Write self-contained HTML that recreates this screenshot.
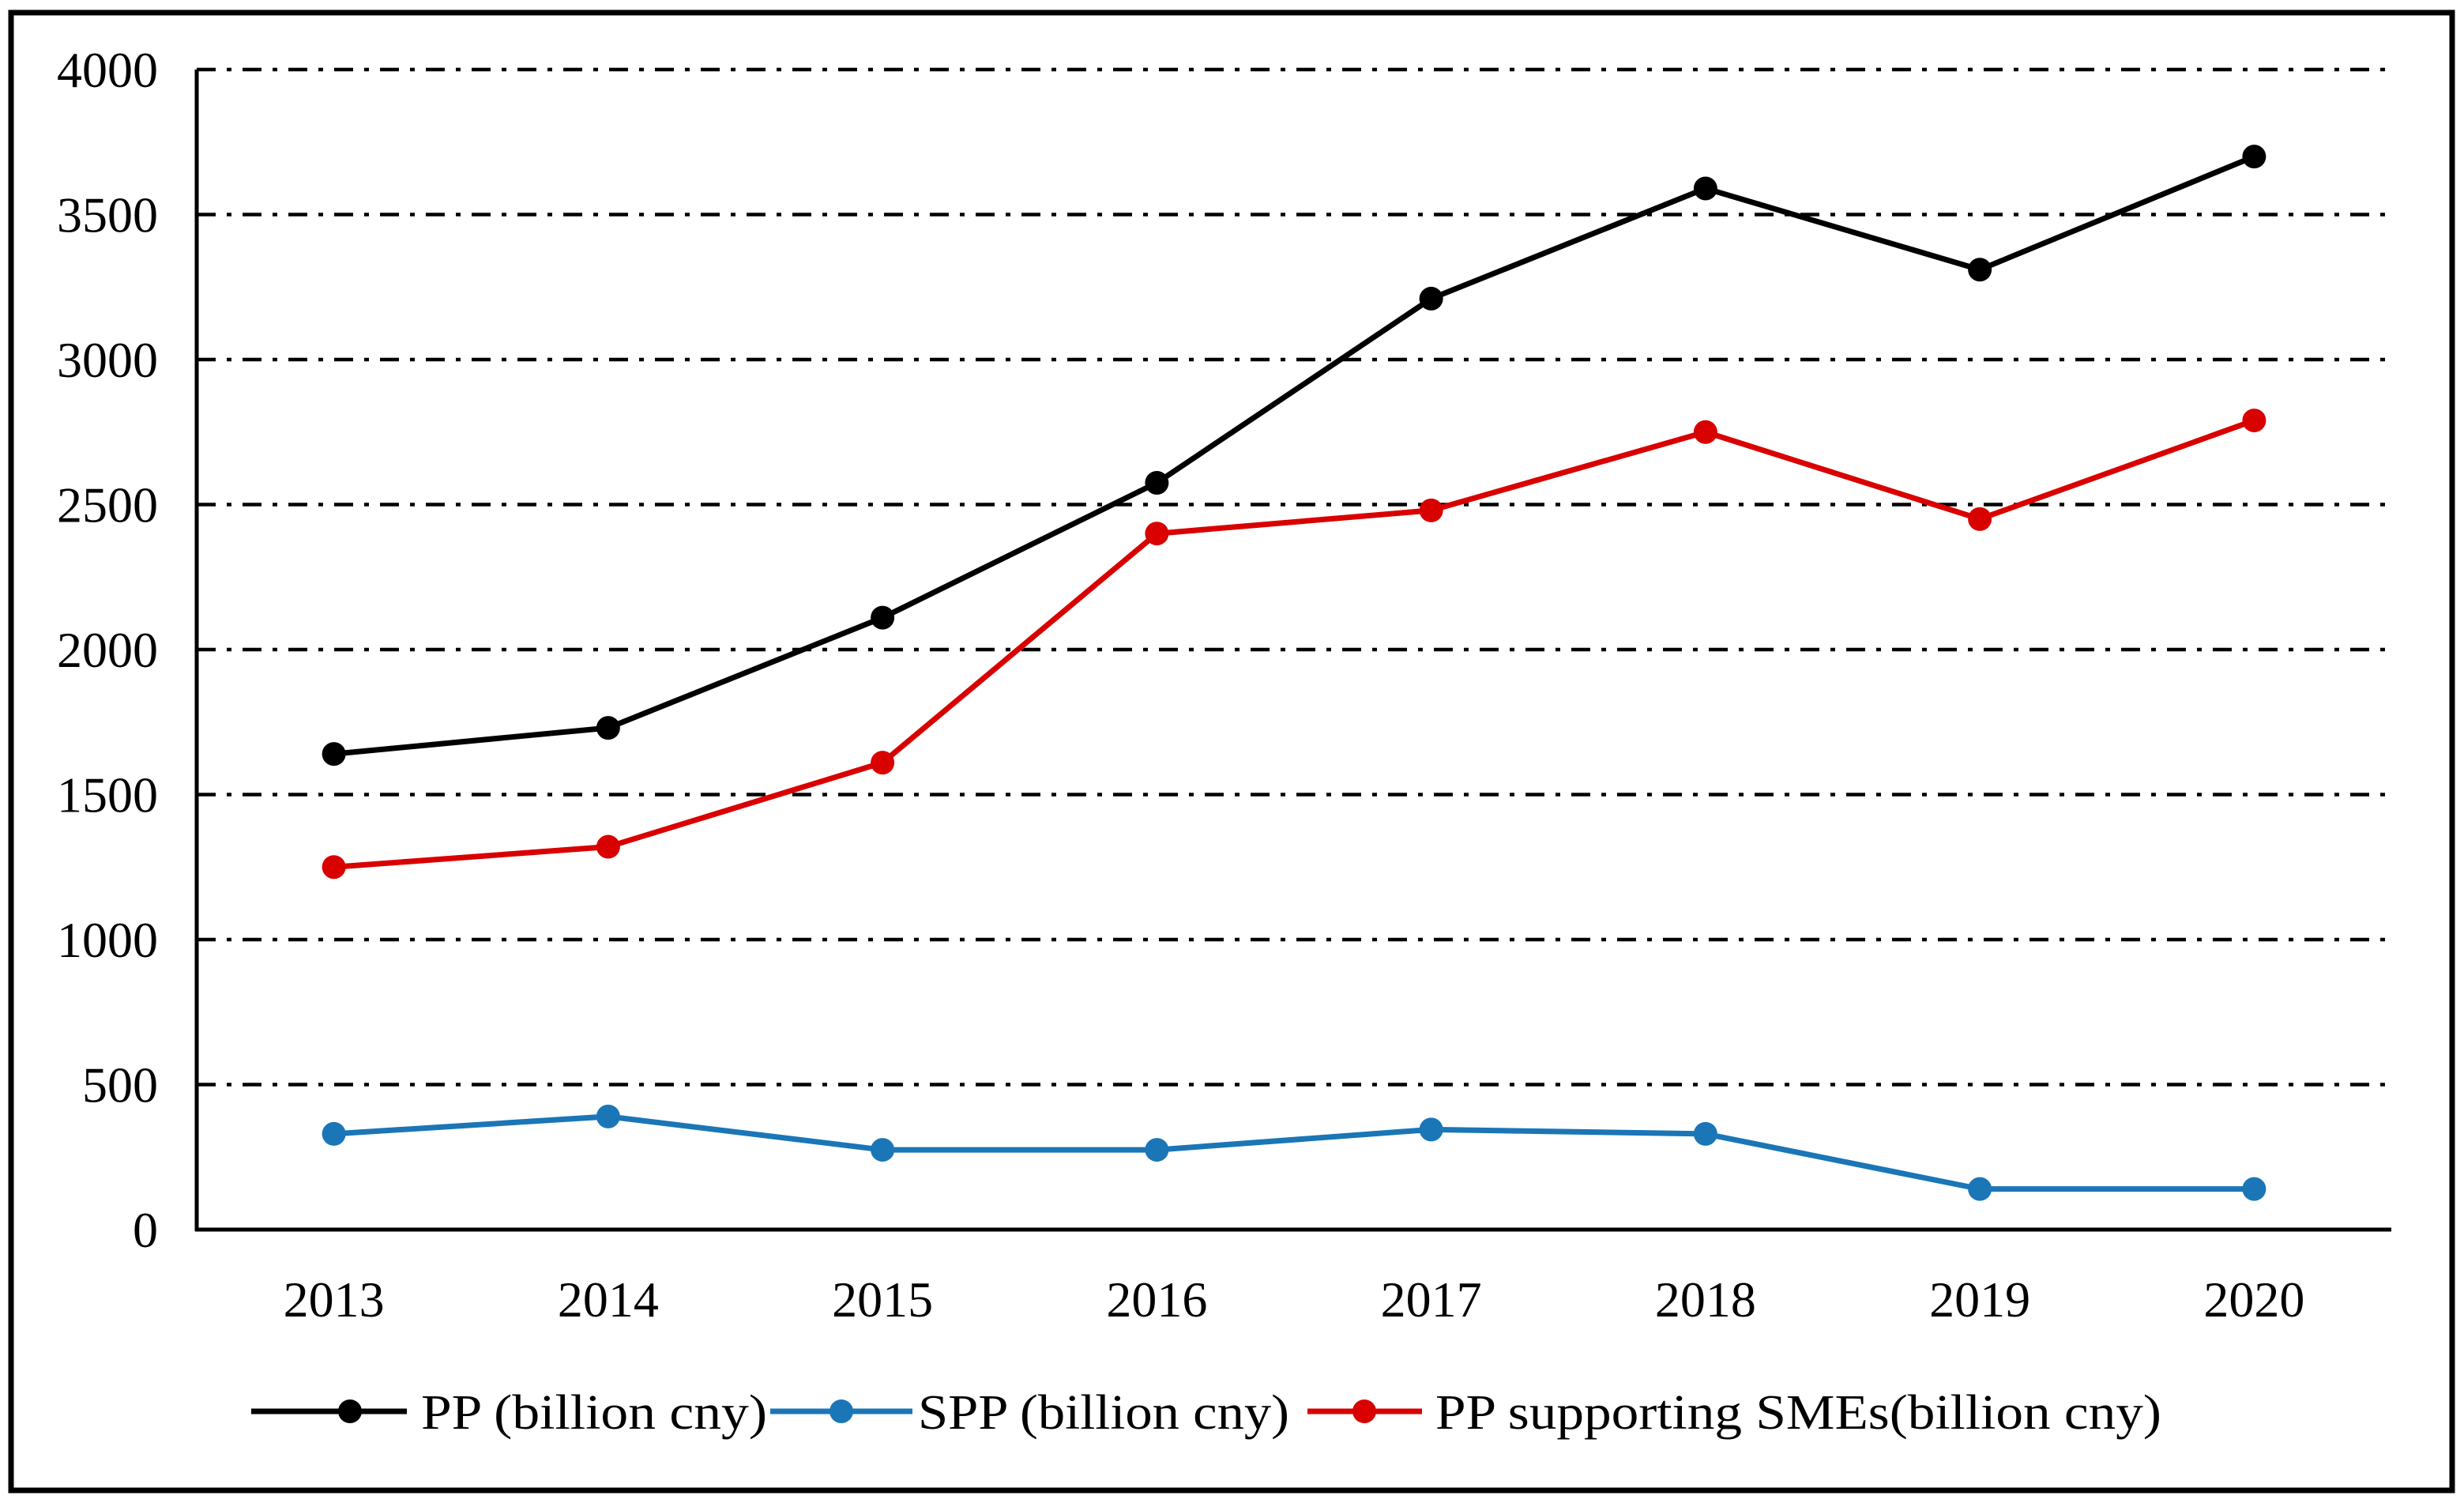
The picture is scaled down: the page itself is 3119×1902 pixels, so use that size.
<!DOCTYPE html>
<html><head><meta charset="utf-8"><style>
html,body{margin:0;padding:0;background:#fff;}
svg{display:block;font-family:"Liberation Serif",serif;}
</style></head><body>
<svg id="chart" width="3119" height="1902" viewBox="0 0 3119 1902" xmlns="http://www.w3.org/2000/svg">
<rect x="14" y="16" width="3090" height="1870" fill="#fff" stroke="#000" stroke-width="7"/>
<g id="grid"></g><g id="axes"></g><g id="series"></g><g id="legend"></g>
</svg>
<script>
const categories = ["2013","2014","2015","2016","2017","2018","2019","2020"];
const ppValues = [1640,1730,2110,2575,3210,3590,3310,3700];
const sppValues = [330,390,275,275,345,330,140,140];
const smeValues = [1250,1320,1610,2400,2480,2750,2450,2790];
const yTicks = [0,500,1000,1500,2000,2500,3000,3500,4000];
const seriesNames = ["PP (billion cny)","SPP (billion cny)","PP supporting SMEs(billion cny)"];

const NS="http://www.w3.org/2000/svg";
const X0=249, X1=3027, Y0=1556, Y1=88, YMAX=4000;
function xPos(i){return X0+(X1-X0)/categories.length*(i+0.5);}
function yPos(v){return Y0-(v/YMAX)*(Y0-Y1);}
function mk(tag,attrs,parent){const e=document.createElementNS(NS,tag);for(const k in attrs)e.setAttribute(k,attrs[k]);parent.appendChild(e);return e;}

const grid=document.getElementById('grid'), axes=document.getElementById('axes'), ser=document.getElementById('series'), leg=document.getElementById('legend');
yTicks.forEach(t=>{
  if(t>0){
    const l=mk('line',{x1:X0,x2:X1,y1:yPos(t),y2:yPos(t),stroke:'#000','stroke-width':4.5,'stroke-dasharray':'24 14 6 14'},grid);
    
    
  }
  const tx=mk('text',{x:200,y:yPos(t)+22,'text-anchor':'end','font-size':64,fill:'#000'},axes);
  tx.textContent=t;
  
  
});
const ya=mk('line',{x1:X0,x2:X0,y1:Y1,y2:Y0+2,stroke:'#000','stroke-width':5},axes);


const xa=mk('line',{x1:X0-2,x2:X1,y1:Y0,y2:Y0,stroke:'#000','stroke-width':5},axes);


categories.forEach((c,i)=>{
  const tx=mk('text',{x:xPos(i),y:1666,'text-anchor':'middle','font-size':64,fill:'#000'},axes);
  tx.textContent=c;
  
  
});
function drawSeries(vals,color,name){
  const g=mk('g',{},ser);
  
  
  const p=mk('polyline',{points:vals.map((v,i)=>xPos(i)+','+yPos(v)).join(' '),fill:'none',stroke:color,'stroke-width':7,'stroke-linejoin':'round'},g);
  
  
  vals.forEach((v,i)=>{
    const c=mk('circle',{cx:xPos(i),cy:yPos(v),r:15,fill:color},g);
    
    
  });
}
drawSeries(sppValues,'#1a76b6','spp-series');
drawSeries(smeValues,'#d90000','sme-series');
drawSeries(ppValues,'#000000','pp-series');

const legItems=[
 {color:'#000',lx1:318,lx2:515,cx:443,tx:533,tw:438},
 {color:'#1a76b6',lx1:975,lx2:1155,cx:1065,tx:1162,tw:470},
 {color:'#d90000',lx1:1655,lx2:1800,cx:1727,tx:1817,tw:919}
];
legItems.forEach((it,i)=>{
  const g=mk('g',{},leg);
  
  
  const l=mk('line',{x1:it.lx1,x2:it.lx2,y1:1786,y2:1786,stroke:it.color,'stroke-width':7},g);
  
  
  const c=mk('circle',{cx:it.cx,cy:1786,r:15,fill:it.color},g);
  
  
  const t=mk('text',{x:it.tx,y:1808,'font-size':62,fill:'#000',textLength:it.tw,lengthAdjust:'spacingAndGlyphs'},g);
  t.textContent=seriesNames[i];
  
  
});
</script>
</body></html>
